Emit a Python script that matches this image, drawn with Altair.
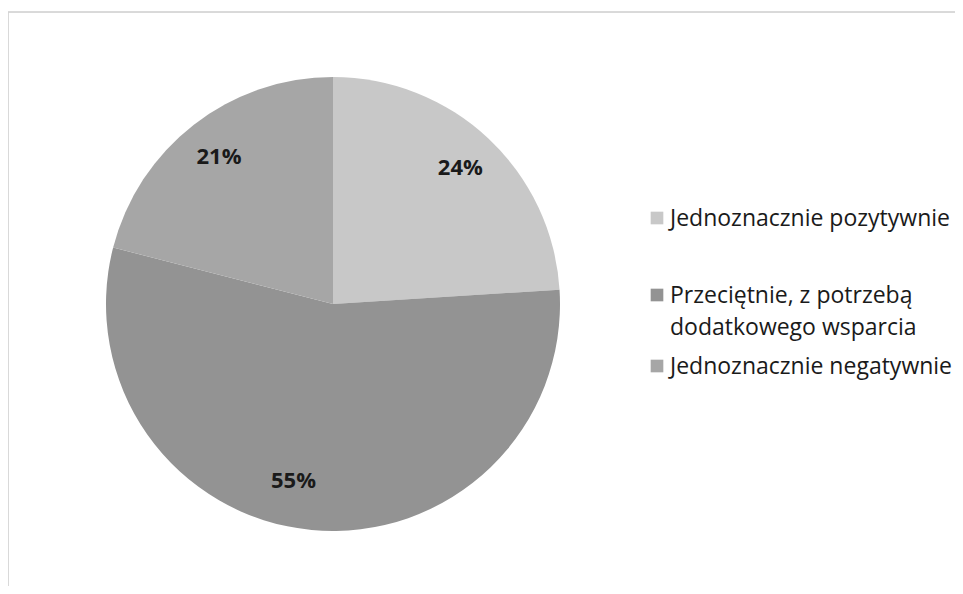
import altair as alt
import pandas as pd

categories = ["Jednoznacznie pozytywnie",
              "Przeciętnie, z potrzebą dodatkowego wsparcia",
              "Jednoznacznie negatywnie"]
legend_text = ["Jednoznacznie pozytywnie",
               "Przeciętnie, z potrzebą\ndodatkowego wsparcia",
               "Jednoznacznie negatywnie"]
values = [24, 55, 21]
pct_labels = ["24%", "55%", "21%"]
colors = ["#c8c8c8", "#939393", "#a6a6a6"]

FONT = "Open Sans"
W, H = 947, 578
CX, CY, R = 325, 296, 227
legend_centers = [210, 287, 358]

df = pd.DataFrame({"category": categories, "value": values,
                   "label": pct_labels, "order": list(range(len(categories)))})

color_scale = alt.Scale(domain=categories, range=colors)

base = alt.Chart(df).encode(
    theta=alt.Theta("value:Q", stack=True),
    order=alt.Order("order:Q"),
)

pie = base.mark_arc(outerRadius=R).encode(
    color=alt.Color("category:N", scale=color_scale, legend=None),
    x=alt.value(CX), y=alt.value(CY),
)

pct_main = base.mark_text(radius=186, fontSize=22, fontWeight="bold", font=FONT,
                          color="#1a1a1a").encode(
    text="label:N", x=alt.value(CX), y=alt.value(CY),
    opacity=alt.condition(alt.datum.label == "55%", alt.value(0), alt.value(1)),
)
pct_big = base.mark_text(radius=186, fontSize=22, fontWeight="bold", font=FONT,
                         color="#1a1a1a", dx=-22, dy=-8).encode(
    text="label:N", x=alt.value(CX), y=alt.value(CY),
    opacity=alt.condition(alt.datum.label == "55%", alt.value(1), alt.value(0)),
)

leg_df = pd.DataFrame({"category": categories, "text": legend_text,
                       "ly": legend_centers})

leg_sq = alt.Chart(leg_df).mark_square(size=160, opacity=1).encode(
    x=alt.value(649),
    y=alt.Y("ly:Q", scale=None),
    color=alt.Color("category:N", scale=color_scale, legend=None),
)
leg_tx = alt.Chart(leg_df).mark_text(align="left", baseline="alphabetic", dy=8,
                                     fontSize=23, font=FONT, color="#1a1a1a",
                                     lineBreak="\n", lineHeight=32).encode(
    x=alt.value(662),
    y=alt.Y("ly:Q", scale=None),
    text="text:N",
)

frame_top = alt.Chart(leg_df).mark_rule(color="#d4d4d4", strokeWidth=1).encode(
    x=alt.value(0), x2=alt.value(W), y=alt.value(4))
frame_left = alt.Chart(leg_df).mark_rule(color="#d4d4d4", strokeWidth=1).encode(
    x=alt.value(0), y=alt.value(4), y2=alt.value(H))

chart = alt.layer(frame_top, frame_left, pie, pct_main, pct_big, leg_sq, leg_tx).properties(
    width=W, height=H, padding=0, autosize="none",
).configure_view(stroke=None)

chart.save("out.html", embed_options={"renderer": "svg", "actions": False})
